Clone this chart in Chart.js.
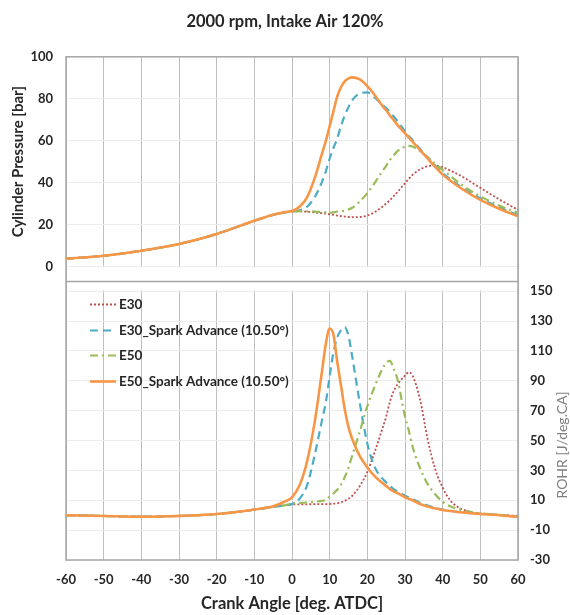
<!DOCTYPE html>
<html>
<head>
<meta charset="utf-8">
<script src="https://cdn.jsdelivr.net/npm/chart.js@4.4.1/dist/chart.umd.min.js"></script>
<style>
  html, body { margin: 0; padding: 0; background: #fff; }
</style>
</head>
<body>
<canvas id="myChart" width="570" height="615"></canvas>
<script>
// crank angle [deg. ATDC]
const angles = [-60, -50, -40, -30, -20, -10, -5, -2, 0, 2, 4, 6, 8, 9, 10, 11, 12, 13, 14, 15, 16, 18, 20, 22, 24, 25, 26, 27, 28, 30, 31, 32, 34, 36, 38, 40, 42, 44, 46, 48, 50, 55, 60]

// cylinder pressure [bar]
const pressE30 = [3.7, 5.1, 7.5, 10.7, 15.5, 21.8, 24.6, 25.7, 26.2, 26.3, 26.1, 25.8, 25.4, 25.2, 24.9, 24.6, 24.3, 24.0, 23.8, 23.6, 23.5, 23.6, 24.3, 26.0, 28.5, 30.0, 31.6, 33.5, 35.5, 39.7, 41.8, 43.7, 46.3, 47.8, 48.2, 47.4, 45.8, 44.0, 42.0, 39.7, 37.5, 32.0, 27.0]
const pressE30SA = [3.7, 5.1, 7.5, 10.7, 15.5, 21.8, 24.6, 25.7, 26.3, 26.8, 28.5, 33.0, 40.5, 45.5, 51.5, 56.5, 61.0, 67.0, 72.0, 76.0, 79.3, 82.5, 83.0, 80.5, 77.0, 75.5, 73.6, 71.5, 69.3, 64.5, 62.3, 60.2, 56.0, 52.0, 48.2, 44.5, 41.6, 39.0, 36.6, 34.5, 32.5, 28.2, 24.5]
const pressE50 = [3.7, 5.1, 7.5, 10.7, 15.5, 21.8, 24.6, 25.7, 26.2, 26.4, 26.3, 26.2, 26.0, 25.8, 25.6, 25.8, 26.2, 26.4, 26.6, 27.2, 28.0, 31.0, 35.0, 40.0, 45.5, 48.0, 50.8, 53.0, 55.0, 57.2, 57.5, 57.2, 54.9, 52.2, 49.0, 46.1, 43.2, 40.4, 37.8, 35.5, 33.4, 29.1, 25.5]
const pressE50SA = [3.7, 5.1, 7.5, 10.7, 15.5, 21.8, 24.7, 25.9, 26.5, 28.5, 33.0, 42.0, 54.0, 60.0, 67.0, 74.0, 81.0, 85.5, 88.3, 89.7, 90.2, 89.2, 86.0, 81.7, 76.5, 74.5, 72.0, 69.8, 67.5, 63.5, 61.5, 59.6, 55.5, 51.5, 47.5, 43.8, 41.0, 38.4, 36.0, 33.8, 31.8, 27.5, 23.9]

// rate of heat release [J/deg.CA]
const rohrE30 = [0, -0.5, -1, -0.5, 0.8, 3.7, 5.6, 6.6, 7.2, 7.3, 7.3, 7.4, 7.4, 7.4, 7.5, 7.7, 8.0, 8.6, 9.7, 11.0, 13.0, 19.5, 29.0, 42.7, 58.0, 66.0, 76.0, 83.0, 87.5, 93.5, 95.7, 93.5, 77.5, 51.0, 31.0, 18.5, 10.0, 5.5, 3.2, 1.7, 1.0, 0.3, -0.5]
const rohrE30SA = [0, -0.5, -1, -0.5, 0.8, 3.7, 5.6, 6.6, 7.5, 11.0, 20.0, 40.0, 64.0, 76.0, 93.0, 109.0, 119.0, 124.0, 126.0, 120.0, 106.0, 75.0, 48.0, 32.0, 24.5, 22.0, 19.5, 17.5, 16.0, 13.0, 12.0, 11.0, 8.3, 6.5, 5.0, 3.8, 3.0, 2.3, 1.8, 1.3, 0.9, 0.1, -1.0]
const rohrE50 = [0, -0.5, -1, -0.5, 0.8, 3.7, 5.6, 6.6, 7.8, 8.2, 8.5, 9.0, 9.7, 10.3, 12.5, 14.5, 17.0, 20.5, 25.5, 32.0, 40.0, 56.0, 73.0, 86.5, 98.0, 102.0, 103.3, 98.0, 91.0, 66.0, 56.7, 46.0, 31.5, 21.0, 14.0, 9.0, 6.0, 4.2, 3.0, 2.0, 1.3, 0.2, -0.8]
const rohrE50SA = [0, -0.5, -1, -0.5, 0.8, 3.8, 6.0, 9.0, 12.0, 20.0, 36.0, 62.0, 97.0, 115.0, 125.0, 121.0, 103.0, 87.0, 71.0, 59.0, 51.0, 39.5, 32.0, 26.0, 21.5, 19.5, 17.5, 16.0, 14.8, 12.0, 11.0, 10.0, 7.5, 5.8, 4.6, 3.5, 2.8, 2.2, 1.7, 1.2, 0.8, 0, -1.2]

const seriesNames = ['E30', 'E30_Spark Advance (10.50°)', 'E50', 'E50_Spark Advance (10.50°)']
const pressSeries = [pressE30, pressE30SA, pressE50, pressE50SA]
const rohrSeries = [rohrE30, rohrE30SA, rohrE50, rohrE50SA]
const angleTicks = [-60, -50, -40, -30, -20, -10, 0, 10, 20, 30, 40, 50, 60]
const pressTicks = [0, 20, 40, 60, 80, 100]
const rohrTicks = [-30, -10, 10, 30, 50, 70, 90, 110, 130, 150]

const colors = ['#c0504d', '#4bacc6', '#9bbb59', '#f79646']
const dashes = [[2, 2], [8, 5], [8, 4, 2, 4], []]
const widths = [1.8, 2.2, 2.2, 2.6]
const FONT = 'Lato, "Open Sans", sans-serif'

function toPoints(ys) {
  return ys.map(function (y, i) { return { x: angles[i], y: y } })
}

const datasets = []
seriesNames.forEach(function (name, i) {
  const style = {
    borderColor: colors[i],
    backgroundColor: colors[i],
    borderDash: dashes[i],
    borderWidth: widths[i],
    pointRadius: 0,
    cubicInterpolationMode: 'monotone',
    order: 4 - i
  }
  datasets.push(Object.assign({ label: name, data: toPoints(pressSeries[i]), yAxisID: 'yP' }, style))
  datasets.push(Object.assign({ label: name, data: toPoints(rohrSeries[i]), yAxisID: 'yR' }, style))
})

// white gap between the two panels, divider, frame, legend and side titles
const panelPlugin = {
  id: 'panels',
  beforeDatasetsDraw(chart) {
    const { ctx, chartArea: a, scales } = chart
    const y0 = scales.yP.getPixelForValue(0)
    const y1 = scales.yR.getPixelForValue(150)
    ctx.save()
    ctx.fillStyle = '#ffffff'
    ctx.fillRect(a.left + 1, y0 + 1, a.right - a.left - 2, y1 - y0 - 2)
    ctx.strokeStyle = '#a6a6a6'
    ctx.lineWidth = 1.5
    const yd = Math.round(scales.yP.getPixelForValue(-6.8)) + 0.5
    ctx.beginPath()
    ctx.moveTo(a.left, yd)
    ctx.lineTo(a.right, yd)
    ctx.stroke()
    ctx.strokeRect(a.left, a.top, a.right - a.left, a.bottom - a.top)
    ctx.restore()
  },
  afterDatasetsDraw(chart) {
    const { ctx, chartArea: a, scales } = chart
    const top = scales.yR.getPixelForValue(150) + 13
    ctx.save()
    ctx.font = 'bold 13.5px ' + FONT
    ctx.textBaseline = 'middle'
    seriesNames.forEach(function (name, i) {
      const y = Math.round(top + i * 25.5) + 0.5
      ctx.strokeStyle = colors[i]
      ctx.lineWidth = widths[i]
      ctx.setLineDash(dashes[i])
      ctx.beginPath()
      ctx.moveTo(a.left + 24, y)
      ctx.lineTo(a.left + 50, y)
      ctx.stroke()
      ctx.setLineDash([])
      ctx.fillStyle = '#262626'
      ctx.fillText(name, a.left + 53, y)
    })
    ctx.restore()
  },
  afterDraw(chart) {
    const { ctx, chartArea: a, scales } = chart
    ctx.save()
    ctx.textAlign = 'center'
    ctx.textBaseline = 'middle'
    ctx.translate(18, (a.top + scales.yP.getPixelForValue(0)) / 2)
    ctx.rotate(-Math.PI / 2)
    ctx.font = 'bold 15px ' + FONT
    ctx.fillStyle = '#262626'
    ctx.fillText('Cylinder Pressure [bar]', 0, 0)
    ctx.restore()
    ctx.save()
    ctx.textAlign = 'center'
    ctx.textBaseline = 'middle'
    ctx.translate(562, scales.yR.getPixelForValue(47))
    ctx.rotate(-Math.PI / 2)
    ctx.font = '14px ' + FONT
    ctx.fillStyle = '#7f7f7f'
    ctx.fillText('ROHR [J/deg.CA]', 0, 0)
    ctx.restore()
  }
}

const config = {
  type: 'line',
  data: { datasets: datasets },
  options: {
    responsive: false,
    animation: false,
    layout: { padding: 0 },
    plugins: {
      legend: { display: false },
      tooltip: { enabled: false },
      title: {
        display: true,
        text: '2000 rpm, Intake Air 120%',
        color: '#262626',
        font: { family: FONT, size: 16.5, weight: 'bold' },
        padding: { top: 12, bottom: 25 }
      }
    },
    scales: {
      x: {
        type: 'linear',
        min: -60,
        max: 60,
        afterBuildTicks: function (s) { s.ticks = angleTicks.map(function (v) { return { value: v } }) },
        afterFit: function (s) { s.height = 55 },
        ticks: { color: '#262626', padding: 12, font: { family: FONT, size: 13, weight: 'bold' } },
        grid: { color: '#bfbfbf', lineWidth: 1, drawTicks: false },
        border: { display: false },
        title: {
          display: true,
          text: 'Crank Angle [deg. ATDC]',
          color: '#262626',
          font: { family: FONT, size: 16.5, weight: 'bold' },
          padding: { top: 0, bottom: 1 }
        }
      },
      yP: {
        type: 'linear',
        position: 'left',
        min: -140,
        max: 100,
        afterBuildTicks: function (s) { s.ticks = pressTicks.map(function (v) { return { value: v } }) },
        afterFit: function (s) { s.width = 66 },
        ticks: { color: '#262626', padding: 13, font: { family: FONT, size: 13, weight: 'bold' } },
        grid: { color: '#ececec', drawTicks: false },
        border: { display: false }
      },
      yR: {
        type: 'linear',
        position: 'right',
        min: -30,
        max: 307,
        afterBuildTicks: function (s) { s.ticks = rohrTicks.map(function (v) { return { value: v } }) },
        afterFit: function (s) { s.width = 52 },
        ticks: { color: '#262626', padding: 12, font: { family: FONT, size: 13, weight: 'bold' } },
        grid: { color: '#ececec', drawTicks: false },
        border: { display: false }
      }
    }
  },
  plugins: [panelPlugin]
}

const myChart = new Chart(document.getElementById('myChart'), config)
</script>
</body>
</html>
